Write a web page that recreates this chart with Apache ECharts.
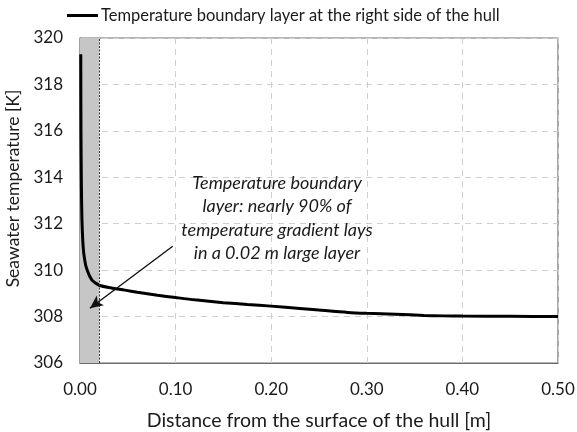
<!DOCTYPE html>
<html>
<head>
<meta charset="utf-8">
<script src="https://cdn.jsdelivr.net/npm/echarts@6/dist/echarts.min.js"></script>
<style>html,body{margin:0;padding:0;background:#fff}#c{width:577px;height:432px}</style>
</head>
<body>
<div id="c"></div>
<script>
const distances = [0.0008, 0.001, 0.0015, 0.002, 0.003, 0.004, 0.006, 0.008, 0.010, 0.013, 0.016, 0.020, 0.030, 0.047, 0.060, 0.081, 0.100, 0.120, 0.150, 0.175, 0.200, 0.230, 0.250, 0.280, 0.300, 0.330, 0.360, 0.380, 0.400, 0.450, 0.500];
const temperatures = [319.3, 316.0, 313.5, 312.2, 311.2, 310.7, 310.2, 309.95, 309.75, 309.55, 309.45, 309.35, 309.25, 309.14, 309.05, 308.92, 308.82, 308.72, 308.60, 308.52, 308.45, 308.35, 308.28, 308.18, 308.14, 308.10, 308.05, 308.03, 308.02, 308.01, 308.00];
const xTicks = [0, 0.1, 0.2, 0.3, 0.4, 0.5];
const yTicks = [306, 308, 310, 312, 314, 316, 318, 320];
const layerEdge = 0.02;
const arrowFrom = [0.097, 311.03];
const arrowTo = [0.0104, 308.36];
const seriesName = 'Temperature boundary layer at the right side of the hull';
const noteLines = ['Temperature boundary', 'layer: nearly 90% of', 'temperature gradient lays', 'in a 0.02 m large layer'];

const FONT = 'Lato';
const chart = echarts.init(document.getElementById('c'));
chart.setOption({
  animation: false,
  textStyle: { fontFamily: FONT },
  grid: { left: 80, right: 19, top: 38, bottom: 69, containLabel: false, outerBoundsMode: 'none', show: true, borderColor: '#6e6e6e', borderWidth: 1.2, backgroundColor: 'transparent' },
  legend: {
    data: [seriesName],
    left: 67, top: 7, padding: 0,
    itemWidth: 31, itemHeight: 3, itemGap: 4,
    icon: 'rect',
    textStyle: { fontFamily: FONT, fontSize: 16.5, color: '#1a1a1a', padding: [0,0,0,-2] }
  },
  xAxis: {
    type: 'value', min: xTicks[0], max: xTicks[xTicks.length-1], interval: 0.1,
    name: 'Distance from the surface of the hull [m]', nameLocation: 'middle', nameGap: 48,
    nameTextStyle: { fontFamily: FONT, fontSize: 19.5, color: '#1a1a1a' },
    axisLine: { show: true, lineStyle: { color: '#6e6e6e', width: 1.2 } },
    axisTick: { show: false },
    axisLabel: { fontFamily: FONT, fontSize: 17, color: '#1a1a1a', margin: 18, formatter: v => v.toFixed(2) },
    splitLine: { show: true, lineStyle: { type: [6, 5], color: '#cfcfcf', width: 1 } }
  },
  yAxis: {
    type: 'value', min: yTicks[0], max: yTicks[yTicks.length-1], interval: 2,
    name: 'Seawater temperature [K]', nameLocation: 'middle', nameGap: 42,
    nameTextStyle: { fontFamily: FONT, fontSize: 17.5, color: '#1a1a1a', padding: [0, 0, 0, 24] },
    axisLine: { show: true, lineStyle: { color: '#6e6e6e', width: 1.2 } },
    axisTick: { show: false },
    axisLabel: { fontFamily: FONT, fontSize: 17, color: '#1a1a1a', margin: 17 },
    splitLine: { show: true, lineStyle: { type: [6, 5], color: '#cfcfcf', width: 1 } }
  },
  series: [
    {
      type: 'line', name: 'layer', data: [], z: 1, silent: true,
      markArea: { silent: true, itemStyle: { color: '#c6c6c6', opacity: 1 }, data: [[{ xAxis: 0 }, { xAxis: layerEdge }]] },
      markLine: { silent: true, symbol: 'none', label: { show: false },
        lineStyle: { type: [2, 1.5], color: '#333', width: 1 }, data: [{ xAxis: layerEdge }] }
    },
    {
      type: 'line', name: seriesName, z: 3,
      data: distances.map((d, i) => [d, temperatures[i]]),
      showSymbol: false, symbol: 'none', smooth: 0.25,
      lineStyle: { color: '#000', width: 3 }, itemStyle: { color: '#000' }
    },
    {
      type: 'line', name: 'arrow', data: [], z: 4, silent: true,
      markLine: { silent: true, label: { show: false }, symbolSize: [9, 13],
        lineStyle: { type: 'solid', color: '#111', width: 1.4 },
        data: [[{ coord: arrowFrom, symbol: 'none' }, { coord: arrowTo, symbol: 'arrow' }]] }
    }
  ],
  graphic: [{
    type: 'text', x: 277, y: 171, z: 10,
    style: { text: noteLines.join('\n'), align: 'center', verticalAlign: 'top', fontFamily: FONT, fontStyle: 'italic', fontSize: 18, lineHeight: 23.5, fill: '#1a1a1a' }
  }]
});
</script>
</body>
</html>
